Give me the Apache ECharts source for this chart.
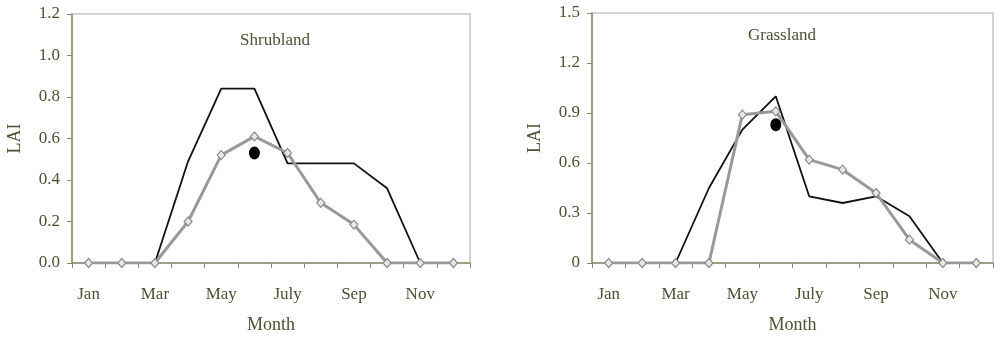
<!DOCTYPE html>
<html>
<head>
<meta charset="utf-8">
<title>LAI by month</title>
<script src="https://cdn.jsdelivr.net/npm/echarts@6/dist/echarts.min.js"></script>
<style>
  html, body { margin: 0; padding: 0; background: #fff; }
  #chart { width: 1000px; height: 339px; }
</style>
</head>
<body>
<div id="chart"></div>
<script>
// months on the x axis
const months = ['Jan', 'Feb', 'Mar', 'Apr', 'May', 'Jun', 'July', 'Aug', 'Sep', 'Oct', 'Nov', 'Dec'];

// Shrubland
const shrubBlack = [0, 0, 0, 0.49, 0.84, 0.84, 0.48, 0.48, 0.48, 0.36, 0, 0];
const shrubGrey = [0, 0, 0, 0.20, 0.52, 0.61, 0.53, 0.29, 0.185, 0, 0, 0];
const shrubDot = [['Jun', 0.53]];

// Grassland
const grassBlack = [0, 0, 0, 0.45, 0.80, 1.0, 0.40, 0.36, 0.40, 0.28, 0, 0];
const grassGrey = [0, 0, 0, 0, 0.89, 0.91, 0.62, 0.56, 0.42, 0.14, 0, 0];
const grassDot = [['Jun', 0.83]];

const FONT = 'Liberation Serif';
const TEXT = '#4f4f33';
const AXIS = '#8c8c6a';

const chart = echarts.init(document.getElementById('chart'));

const xAxisFor = (gi) => ({
  type: 'category',
  gridIndex: gi,
  data: months,
  boundaryGap: true,
  name: 'Month',
  nameLocation: 'middle',
  nameGap: 53,
  nameTextStyle: { fontFamily: FONT, fontSize: 18, color: TEXT },
  axisLine: { lineStyle: { color: AXIS, width: 1.5 } },
  axisTick: { show: true, interval: 0, length: 5, lineStyle: { color: AXIS } },
  axisLabel: {
    interval: 1, margin: 23,
    fontFamily: FONT, fontSize: 17, color: TEXT
  },
  splitLine: { show: false }
});

const yAxisFor = (gi, max, step, fmt) => ({
  type: 'value',
  gridIndex: gi,
  min: 0, max: max, interval: step,
  name: 'LAI',
  nameLocation: 'middle',
  nameRotate: 90,
  nameGap: 48,
  nameTextStyle: { fontFamily: FONT, fontSize: 18, color: TEXT },
  axisLine: { show: true, lineStyle: { color: AXIS, width: 1.5 } },
  axisTick: { show: true, length: 5, lineStyle: { color: AXIS } },
  axisLabel: {
    margin: 12, fontFamily: FONT, fontSize: 17, color: TEXT,
    formatter: fmt
  },
  splitLine: { show: false }
});

const blackLine = (gi, data) => ({
  type: 'line', xAxisIndex: gi, yAxisIndex: gi,
  data: data, showSymbol: false, symbol: 'none',
  lineStyle: { color: '#111', width: 1.8 },
  z: 3
});

const greyLine = (gi, data) => ({
  type: 'line', xAxisIndex: gi, yAxisIndex: gi,
  data: data,
  symbol: 'diamond', symbolSize: [8, 9],
  itemStyle: { color: '#e8e8e8', borderColor: '#8a8a8a', borderWidth: 1.2 },
  lineStyle: { color: '#999', width: 3 },
  z: 4
});

const dot = (gi, data) => ({
  type: 'scatter', xAxisIndex: gi, yAxisIndex: gi,
  data: data, symbol: 'circle', symbolSize: [11, 13],
  itemStyle: { color: '#000', opacity: 1 },
  z: 5
});

chart.setOption({
  animation: false,
  backgroundColor: '#fff',
  title: [
    { text: 'Shrubland', left: 270, top: 27, textAlign: 'center',
      textStyle: { fontFamily: FONT, fontSize: 17, fontWeight: 'normal', color: TEXT } },
    { text: 'Grassland', left: 777, top: 22, textAlign: 'center',
      textStyle: { fontFamily: FONT, fontSize: 17, fontWeight: 'normal', color: TEXT } }
  ],
  grid: [
    { left: 72, right: 530, top: 14, bottom: 76, show: true, borderColor: '#c8c8c8', borderWidth: 1.5 },
    { left: 592, right: 7, top: 13, bottom: 76, show: true, borderColor: '#c8c8c8', borderWidth: 1.5 }
  ],
  xAxis: [xAxisFor(0), xAxisFor(1)],
  yAxis: [
    yAxisFor(0, 1.2, 0.2, (v) => v.toFixed(1)),
    yAxisFor(1, 1.5, 0.3, (v) => (v === 0 ? '0' : v.toFixed(1)))
  ],
  series: [
    blackLine(0, shrubBlack),
    greyLine(0, shrubGrey),
    dot(0, shrubDot),
    blackLine(1, grassBlack),
    greyLine(1, grassGrey),
    dot(1, grassDot)
  ]
});
</script>
</body>
</html>
